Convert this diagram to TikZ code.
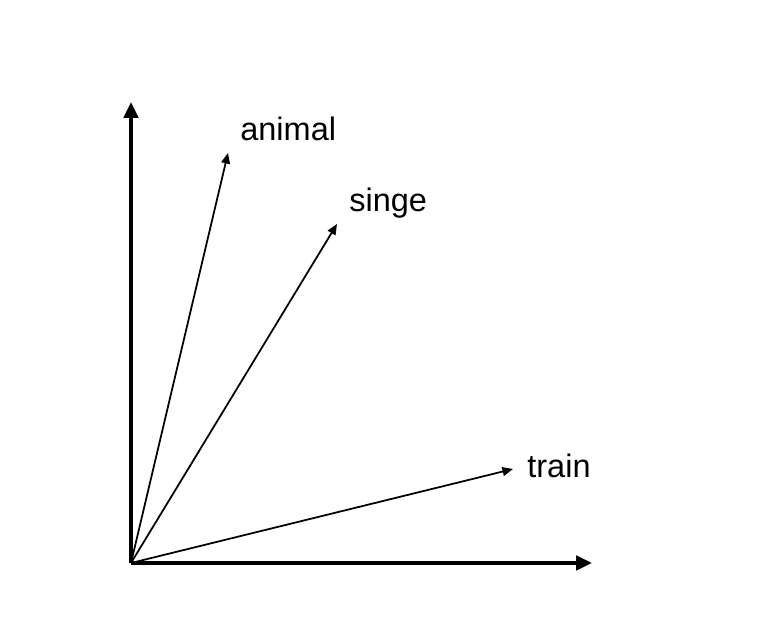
\documentclass[tikz,border=0pt]{standalone}
\usepackage{fontspec}
\setmainfont{Liberation Sans}
\usetikzlibrary{arrows.meta}

\begin{document}
\begin{tikzpicture}[x=0.02cm,y=-0.02cm,
    axis/.style={line width=2.3pt,-{Triangle[length=9pt,width=8pt]}},
    vec/.style={line width=1pt,-{Triangle[length=6pt,width=5pt]}},
    word/.style={font=\fontsize{18.5}{22}\selectfont,anchor=west,inner sep=0pt}]
            \useasboundingbox (0,0) rectangle (770,629);
            % Origin and axis ends
            \coordinate (O) at (131,563);
            \coordinate (yend) at (131,102);
            \coordinate (xend) at (592,563);
            \draw[axis] (O) -- (yend);
            \draw[axis] (O) -- (xend);

            % Word vectors
            \coordinate (animal) at (228,153);
            \coordinate (singe) at (337,224);
            \coordinate (train) at (513,469);
            \draw[vec] (O) -- (animal);
            \draw[vec] (O) -- (singe);
            \draw[vec] (O) -- (train);

            % Label the words
            \node[word] (lanimal) at (240,129) {animal};
            \node[word] (lsinge) at (349,203) {singe};
            \node[word] (ltrain) at (527,466) {train};
        \end{tikzpicture}
\end{document}
